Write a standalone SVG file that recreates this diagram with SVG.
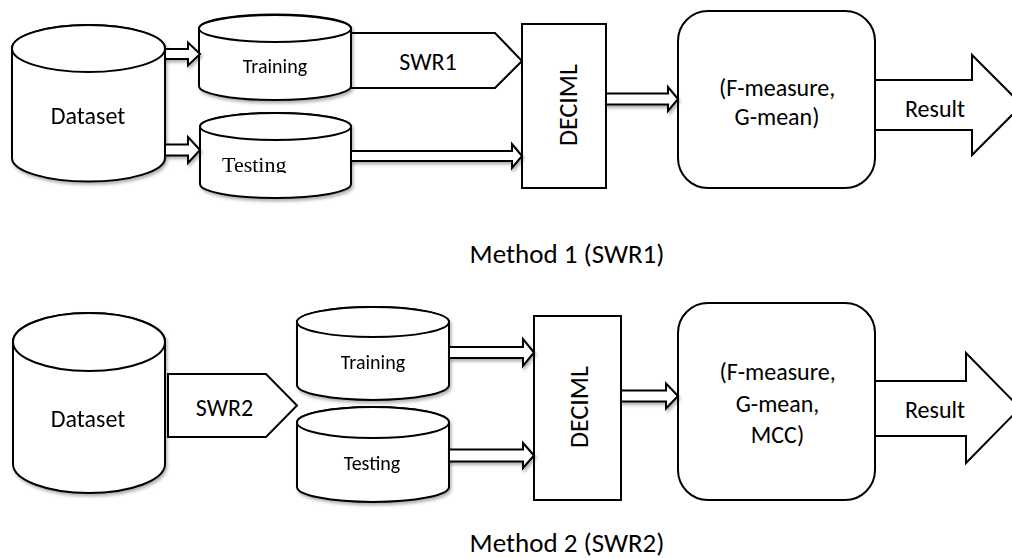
<svg xmlns="http://www.w3.org/2000/svg" width="1012" height="558" viewBox="0 0 1012 558">
<style>
.s{fill:#fff;stroke:#000;stroke-width:2;stroke-linejoin:miter}
.t{font-family:Carlito,Lato,"Open Sans",sans-serif;fill:#000;text-anchor:middle}
.sm{font-size:20px}
.md{font-size:24px}
.lg{font-size:26px}
.cap{font-size:27px}
.sf{font-family:"Liberation Serif","Times New Roman",serif;font-size:22px;fill:#000}
</style>
<defs>
<filter id="sh" x="-10%" y="-10%" width="130%" height="140%">
<feDropShadow dx="1.5" dy="2.5" stdDeviation="1.5" flood-color="#000" flood-opacity="0.3"/>
</filter>
<clipPath id="clipTest"><rect x="200" y="130" width="151" height="43"/></clipPath>
</defs>
<rect width="1012" height="558" fill="#fff"/>

<!-- ===== Method 1 ===== -->
<g id="m1-swr1">
<polygon class="s" points="340,33 495,33 522,61 495,88 340,88"/>
<text class="t md" x="428" y="70">SWR1</text>
</g>
<g id="m1-dataset" filter="url(#sh)">
<path class="s" d="M12,48.5 V158 A76.5,23.5 0 0 0 165,158 V48.5 A76.5,23.5 0 0 0 12,48.5 Z"/>
<ellipse class="s" cx="88.5" cy="48.5" rx="76.5" ry="23.5"/>
<text class="t md" x="88" y="124">Dataset</text>
</g>
<g id="m1-training" filter="url(#sh)">
<path class="s" d="M199,28.5 V86 A76,14 0 0 0 351,86 V28.5 A76,14 0 0 0 199,28.5 Z"/>
<ellipse class="s" cx="275" cy="28.5" rx="76" ry="13.5"/>
<text class="t sm" x="275" y="73">Training</text>
</g>
<g id="m1-testing" filter="url(#sh)">
<path class="s" d="M200,126.5 V184 A75.5,14 0 0 0 351,184 V126.5 A75.5,13.5 0 0 0 200,126.5 Z"/>
<ellipse class="s" cx="275.5" cy="126.5" rx="75.5" ry="13.5"/>
<text class="sf" x="222" y="172" clip-path="url(#clipTest)">Testing</text>
</g>
<g id="m1-deciml">
<rect class="s" x="522" y="24" width="84" height="164"/>
<text class="t lg" transform="translate(577,105) rotate(-90)">DECIML</text>
</g>
<g id="m1-metrics">
<rect class="s" x="678" y="11" width="197" height="177" rx="30" ry="30"/>
<text class="t md" x="777" y="96">(F-measure,</text>
<text class="t md" x="777" y="125">G-mean)</text>
</g>
<g id="m1-result">
<polygon class="s" points="875,80 972,80 972,55 1022,105 972,155 972,130 875,130"/>
<text class="t md" x="935" y="117">Result</text>
</g>
<text class="t cap" x="567" y="263">Method 1 (SWR1)</text>

<!-- ===== Method 2 ===== -->
<g id="m2-dataset" filter="url(#sh)">
<path class="s" d="M13,342 V464 A76,29 0 0 0 165,464 V342 A76,29 0 0 0 13,342 Z"/>
<ellipse class="s" cx="89" cy="342" rx="76" ry="29"/>
<text class="t md" x="88" y="427">Dataset</text>
</g>
<g id="m2-swr2">
<polygon class="s" points="168,374 266,374 297,405.5 266,437 168,437"/>
<text class="t md" x="224.5" y="416">SWR2</text>
</g>
<g id="m2-training" filter="url(#sh)">
<path class="s" d="M297,322 V385 A76,15 0 0 0 449,385 V322 A76,15 0 0 0 297,322 Z"/>
<ellipse class="s" cx="373" cy="322" rx="76" ry="15"/>
<text class="t sm" x="373" y="369">Training</text>
</g>
<g id="m2-testing" filter="url(#sh)">
<path class="s" d="M297,422.5 V487 A76,15 0 0 0 449,487 V422.5 A76,15.5 0 0 0 297,422.5 Z"/>
<ellipse class="s" cx="373" cy="422.5" rx="76" ry="15.5"/>
<text class="t sm" x="372" y="470">Testing</text>
</g>
<g id="m2-deciml">
<rect class="s" x="534" y="316" width="87" height="184"/>
<text class="t lg" transform="translate(588,407) rotate(-90)">DECIML</text>
</g>
<g id="m2-metrics">
<rect class="s" x="678" y="303" width="197" height="197" rx="30" ry="30"/>
<text class="t md" x="777.5" y="380">(F-measure,</text>
<text class="t md" x="777.5" y="411.5">G-mean,</text>
<text class="t md" x="777.5" y="443">MCC)</text>
</g>
<g id="m2-result">
<polygon class="s" points="875,381 966,381 966,353 1020,408 966,463 966,436 875,436"/>
<text class="t md" x="935" y="418">Result</text>
</g>
<text class="t cap" x="567" y="552">Method 2 (SWR2)</text>

<!-- ===== Connectors (block arrows) ===== -->
<g id="connectors" filter="url(#sh)">
<polygon class="s" points="165,49 188,49 188,42.5 200,54 188,65.5 188,59 165,59"/>
<polygon class="s" points="165,144.5 188,144.5 188,137 200,150 188,163 188,155.5 165,155.5"/>
<polygon class="s" points="351,151 512,151 512,144 522,156 512,168 512,161 351,161"/>
<polygon class="s" points="606,93.5 668,93.5 668,87 678,99 668,111 668,104.5 606,104.5"/>
<polygon class="s" points="449,347 523,347 523,339 534,352.5 523,366 523,358 449,358"/>
<polygon class="s" points="449,449.5 523,449.5 523,443 534,455.5 523,468 523,461.5 449,461.5"/>
<polygon class="s" points="621,390.5 666,390.5 666,383.5 678,396 666,408.5 666,401.5 621,401.5"/>
</g>
</svg>
